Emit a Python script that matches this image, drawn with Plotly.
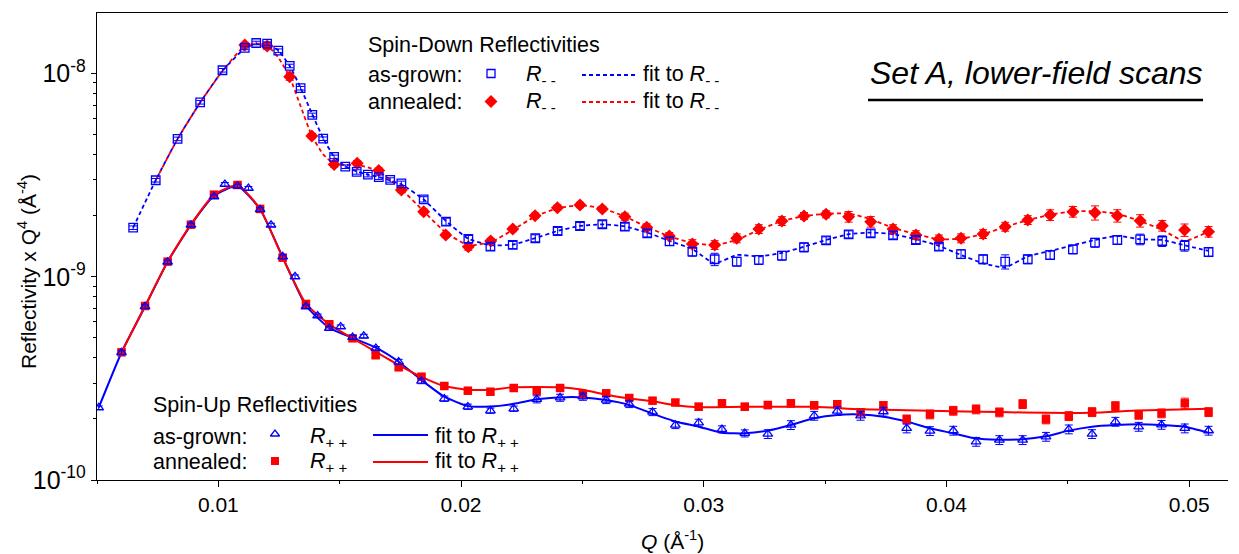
import plotly.graph_objects as go

# ---------------- data ----------------
# Spin-down, as-grown (open blue squares)
BS_Q = [0.00649, 0.00742, 0.00832, 0.00925, 0.01017, 0.01109, 0.01156, 0.01201, 0.01247, 0.01294,
        0.01339, 0.01387, 0.01432, 0.01477, 0.01523, 0.01570, 0.01616, 0.01661, 0.01708, 0.01754,
        0.01846, 0.01938, 0.02030, 0.02121, 0.02213, 0.02306, 0.02398, 0.02490, 0.02582, 0.02675,
        0.02767, 0.02859, 0.02953, 0.03045, 0.03136, 0.03227, 0.03322, 0.03413, 0.03504, 0.03597,
        0.03688, 0.03780, 0.03874, 0.03969, 0.04060, 0.04151, 0.04242, 0.04335, 0.04427, 0.04521,
        0.04612, 0.04704, 0.04798, 0.04889, 0.04981, 0.05080]
BS_R = [1.744e-9, 2.985e-9, 4.77e-9, 7.22e-9, 1.038e-8, 1.337e-8, 1.414e-8, 1.403e-8, 1.296e-8, 1.090e-8,
        8.47e-9, 6.26e-9, 4.78e-9, 3.89e-9, 3.48e-9, 3.28e-9, 3.18e-9, 3.09e-9, 2.995e-9, 2.884e-9,
        2.406e-9, 1.867e-9, 1.535e-9, 1.406e-9, 1.434e-9, 1.547e-9, 1.680e-9, 1.778e-9, 1.813e-9, 1.764e-9,
        1.637e-9, 1.495e-9, 1.329e-9, 1.220e-9, 1.187e-9, 1.210e-9, 1.270e-9, 1.397e-9, 1.512e-9, 1.618e-9,
        1.637e-9, 1.600e-9, 1.517e-9, 1.406e-9, 1.294e-9, 1.220e-9, 1.187e-9, 1.220e-9, 1.280e-9, 1.365e-9,
        1.471e-9, 1.517e-9, 1.529e-9, 1.500e-9, 1.422e-9, 1.324e-9]
BS_ERR = [0.02, 0.02, 0.02, 0.02, 0.02, 0.02, 0.02, 0.02, 0.02, 0.02,
          0.02, 0.02, 0.02, 0.02, 0.02, 0.025, 0.025, 0.025, 0.025, 0.025,
          0.03, 0.04, 0.04, 0.04, 0.04, 0.04, 0.04, 0.04, 0.04, 0.04,
          0.04, 0.045, 0.05, 0.07, 0.05, 0.05, 0.05, 0.05, 0.04, 0.04,
          0.04, 0.04, 0.04, 0.04, 0.05, 0.05, 0.08, 0.05, 0.05, 0.05,
          0.05, 0.05, 0.06, 0.06, 0.06, 0.05]

# Spin-down, annealed (red diamonds)
RD_Q = [0.01109, 0.01201, 0.01294, 0.01385, 0.01477, 0.01572, 0.01661, 0.01754, 0.01846, 0.01937,
        0.02030, 0.02122, 0.02213, 0.02305, 0.02397, 0.02490, 0.02582, 0.02675, 0.02765, 0.02858,
        0.02953, 0.03045, 0.03136, 0.03227, 0.03322, 0.03413, 0.03504, 0.03597, 0.03688, 0.03780,
        0.03874, 0.03969, 0.04060, 0.04151, 0.04242, 0.04335, 0.04427, 0.04521, 0.04612, 0.04704,
        0.04798, 0.04889, 0.04981, 0.05080]
RD_R = [1.382e-8, 1.367e-8, 9.65e-9, 4.93e-9, 3.57e-9, 3.62e-9, 3.33e-9, 2.675e-9, 2.091e-9, 1.605e-9,
        1.406e-9, 1.500e-9, 1.718e-9, 1.998e-9, 2.188e-9, 2.256e-9, 2.157e-9, 1.976e-9, 1.752e-9, 1.587e-9,
        1.450e-9, 1.434e-9, 1.547e-9, 1.718e-9, 1.882e-9, 1.991e-9, 2.030e-9, 1.976e-9, 1.867e-9, 1.718e-9,
        1.605e-9, 1.529e-9, 1.547e-9, 1.624e-9, 1.764e-9, 1.903e-9, 2.014e-9, 2.091e-9, 2.067e-9, 1.998e-9,
        1.888e-9, 1.784e-9, 1.699e-9, 1.667e-9]
RD_ERR = [0.03, 0.04, 0.04, 0.03, 0.03, 0.03, 0.03, 0.03, 0.03, 0.03,
          0.04, 0.03, 0.03, 0.03, 0.03, 0.03, 0.03, 0.04, 0.04, 0.04,
          0.05, 0.05, 0.05, 0.05, 0.05, 0.04, 0.04, 0.06, 0.06, 0.05,
          0.05, 0.05, 0.05, 0.05, 0.05, 0.05, 0.06, 0.06, 0.08, 0.07,
          0.07, 0.06, 0.07, 0.06]

# Spin-up, annealed (filled red squares)
RS_Q = [0.00601, 0.00698, 0.00791, 0.00887, 0.00982, 0.01079, 0.01172, 0.01265, 0.01361, 0.01457,
        0.01553, 0.01648, 0.01743, 0.01837, 0.01931, 0.02028, 0.02121, 0.02217, 0.02312, 0.02408,
        0.02502, 0.02598, 0.02693, 0.02789, 0.02883, 0.02979, 0.03075, 0.03169, 0.03264, 0.03359,
        0.03455, 0.03550, 0.03646, 0.03740, 0.03836, 0.03932, 0.04028, 0.04122, 0.04218, 0.04314,
        0.04410, 0.04504, 0.04600, 0.04696, 0.04792, 0.04886, 0.04982, 0.05080]
RS_R = [4.25e-10, 7.18e-10, 1.187e-9, 1.805e-9, 2.535e-9, 2.830e-9, 2.157e-9, 1.242e-9, 7.35e-10, 5.84e-10,
        4.98e-10, 4.11e-10, 3.585e-10, 3.224e-10, 2.901e-10, 2.750e-10, 2.719e-10, 2.836e-10, 2.742e-10, 2.836e-10,
        2.640e-10, 2.671e-10, 2.532e-10, 2.456e-10, 2.406e-10, 2.294e-10, 2.384e-10, 2.294e-10, 2.339e-10, 2.384e-10,
        2.330e-10, 2.360e-10, 2.154e-10, 2.330e-10, 1.989e-10, 2.105e-10, 2.193e-10, 2.228e-10, 2.154e-10, 2.366e-10,
        1.989e-10, 2.065e-10, 2.160e-10, 2.312e-10, 2.095e-10, 2.130e-10, 2.384e-10, 2.160e-10]
RS_ERR = [0.02, 0.02, 0.02, 0.02, 0.02, 0.02, 0.02, 0.02, 0.02, 0.02,
          0.025, 0.025, 0.025, 0.025, 0.025, 0.025, 0.025, 0.025, 0.025, 0.025,
          0.03, 0.03, 0.03, 0.03, 0.03, 0.04, 0.04, 0.04, 0.04, 0.04,
          0.04, 0.04, 0.04, 0.04, 0.05, 0.05, 0.05, 0.05, 0.05, 0.05,
          0.05, 0.05, 0.05, 0.05, 0.05, 0.05, 0.06, 0.05]

# Spin-up, as-grown (open blue triangles)
BT_Q = [0.00507, 0.00601, 0.00698, 0.00791, 0.00887, 0.00982, 0.01027, 0.01079, 0.01124, 0.01172,
        0.01217, 0.01265, 0.01316, 0.01361, 0.01409, 0.01457, 0.01504, 0.01553, 0.01599, 0.01649,
        0.01743, 0.01837, 0.01931, 0.02028, 0.02121, 0.02217, 0.02312, 0.02408, 0.02502, 0.02598,
        0.02693, 0.02789, 0.02883, 0.02979, 0.03075, 0.03169, 0.03264, 0.03359, 0.03455, 0.03550,
        0.03646, 0.03740, 0.03836, 0.03932, 0.04028, 0.04122, 0.04218, 0.04314, 0.04410, 0.04504,
        0.04600, 0.04696, 0.04792, 0.04886, 0.04982, 0.05080]
BT_R = [2.269e-10, 4.24e-10, 7.14e-10, 1.183e-9, 1.798e-9, 2.478e-9, 2.852e-9, 2.798e-9, 2.725e-9, 2.144e-9,
        1.798e-9, 1.256e-9, 1.001e-9, 7.13e-10, 6.43e-10, 5.58e-10, 5.68e-10, 5.04e-10, 5.11e-10, 4.45e-10,
        3.81e-10, 3.07e-10, 2.512e-10, 2.294e-10, 2.193e-10, 2.243e-10, 2.495e-10, 2.541e-10, 2.570e-10, 2.475e-10,
        2.366e-10, 2.160e-10, 1.865e-10, 1.914e-10, 1.776e-10, 1.697e-10, 1.684e-10, 1.865e-10, 2.072e-10, 2.186e-10,
        2.072e-10, 2.170e-10, 1.796e-10, 1.742e-10, 1.750e-10, 1.543e-10, 1.573e-10, 1.573e-10, 1.633e-10, 1.776e-10,
        1.684e-10, 1.936e-10, 1.829e-10, 1.870e-10, 1.796e-10, 1.750e-10]
BT_ERR = [0.02, 0.02, 0.02, 0.02, 0.02, 0.02, 0.02, 0.02, 0.02, 0.02,
          0.02, 0.02, 0.02, 0.02, 0.02, 0.02, 0.02, 0.02, 0.02, 0.02,
          0.03, 0.03, 0.03, 0.03, 0.03, 0.03, 0.04, 0.04, 0.04, 0.04,
          0.04, 0.04, 0.04, 0.04, 0.04, 0.04, 0.05, 0.05, 0.05, 0.05,
          0.05, 0.05, 0.05, 0.05, 0.05, 0.05, 0.05, 0.05, 0.05, 0.05,
          0.05, 0.05, 0.05, 0.05, 0.05, 0.05]

# Fits
FIT_BD_Q = BS_Q
FIT_BD_R = [1.744e-9, 2.985e-9, 4.77e-9, 7.2e-9, 1.03e-8, 1.33e-8, 1.40e-8, 1.40e-8, 1.30e-8, 1.09e-8,
            8.5e-9, 6.3e-9, 4.8e-9, 3.9e-9, 3.5e-9, 3.3e-9, 3.18e-9, 3.1e-9, 2.98e-9, 2.85e-9,
            2.4e-9, 1.88e-9, 1.54e-9, 1.43e-9, 1.44e-9, 1.55e-9, 1.68e-9, 1.78e-9, 1.81e-9, 1.77e-9,
            1.65e-9, 1.50e-9, 1.368e-9, 1.165e-9, 1.28e-9, 1.26e-9, 1.31e-9, 1.406e-9, 1.517e-9, 1.62e-9,
            1.65e-9, 1.62e-9, 1.53e-9, 1.42e-9, 1.28e-9, 1.165e-9, 1.114e-9, 1.26e-9, 1.34e-9, 1.43e-9,
            1.517e-9, 1.59e-9, 1.53e-9, 1.517e-9, 1.43e-9, 1.34e-9]

FIT_RD_Q = [0.00742, 0.00832, 0.00925, 0.01017, 0.01109, 0.01156, 0.01201, 0.01247, 0.01294, 0.01339,
            0.01385, 0.01432, 0.01477, 0.01525, 0.01572, 0.01616, 0.01661, 0.01754, 0.01846, 0.01937,
            0.02030, 0.02122, 0.02213, 0.02305, 0.02397, 0.02490, 0.02582, 0.02675, 0.02765, 0.02858,
            0.02953, 0.03045, 0.03136, 0.03227, 0.03322, 0.03413, 0.03504, 0.03597, 0.03688, 0.03780,
            0.03874, 0.03969, 0.04060, 0.04151, 0.04242, 0.04335, 0.04427, 0.04521, 0.04612, 0.04704,
            0.04798, 0.04889, 0.04981, 0.05080]
FIT_RD_R = [2.985e-9, 4.77e-9, 7.2e-9, 1.03e-8, 1.37e-8, 1.40e-8, 1.38e-8, 1.20e-8, 9.6e-9, 6.9e-9,
            4.95e-9, 4.0e-9, 3.6e-9, 3.55e-9, 3.55e-9, 3.45e-9, 3.3e-9, 2.7e-9, 2.1e-9, 1.65e-9,
            1.43e-9, 1.48e-9, 1.70e-9, 1.98e-9, 2.17e-9, 2.25e-9, 2.17e-9, 1.98e-9, 1.76e-9, 1.58e-9,
            1.47e-9, 1.43e-9, 1.52e-9, 1.70e-9, 1.88e-9, 1.99e-9, 2.04e-9, 2.05e-9, 1.92e-9, 1.74e-9,
            1.62e-9, 1.53e-9, 1.54e-9, 1.62e-9, 1.76e-9, 1.90e-9, 2.02e-9, 2.10e-9, 2.10e-9, 2.04e-9,
            1.88e-9, 1.70e-9, 1.50e-9, 1.67e-9]

FIT_BU_Q = [0.00507, 0.00601, 0.00698, 0.00791, 0.00887, 0.00982, 0.01079, 0.01172, 0.01265, 0.01361,
            0.01457, 0.01553, 0.01649, 0.01743, 0.01837, 0.01931, 0.02028, 0.02121, 0.02217, 0.02312,
            0.02408, 0.02502, 0.02598, 0.02693, 0.02789, 0.02883, 0.02979, 0.03075, 0.03169, 0.03264,
            0.03359, 0.03455, 0.03550, 0.03646, 0.03740, 0.03836, 0.03932, 0.04028, 0.04122, 0.04218,
            0.04314, 0.04410, 0.04504, 0.04600, 0.04696, 0.04792, 0.04886, 0.04982, 0.05080]
FIT_BU_R = [2.27e-10, 4.24e-10, 7.14e-10, 1.185e-9, 1.80e-9, 2.50e-9, 2.80e-9, 2.15e-9, 1.25e-9, 7.2e-10,
            5.6e-10, 5.0e-10, 4.48e-10, 3.82e-10, 3.10e-10, 2.57e-10, 2.31e-10, 2.30e-10, 2.37e-10, 2.495e-10,
            2.55e-10, 2.55e-10, 2.475e-10, 2.34e-10, 2.12e-10, 1.94e-10, 1.83e-10, 1.71e-10, 1.697e-10, 1.75e-10,
            1.865e-10, 2.012e-10, 2.089e-10, 2.10e-10, 2.05e-10, 1.94e-10, 1.796e-10, 1.697e-10, 1.60e-10, 1.58e-10,
            1.585e-10, 1.64e-10, 1.75e-10, 1.83e-10, 1.865e-10, 1.88e-10, 1.865e-10, 1.83e-10, 1.71e-10]

FIT_RU_Q = [0.00601, 0.00698, 0.00791, 0.00887, 0.00982, 0.01079, 0.01172, 0.01265, 0.01361, 0.01457,
            0.01553, 0.01648, 0.01743, 0.01837, 0.01931, 0.02028, 0.02121, 0.02217, 0.02312, 0.02408,
            0.02502, 0.02598, 0.02693, 0.02789, 0.02883, 0.02979, 0.03169, 0.03455, 0.03646, 0.03932,
            0.04218, 0.04410, 0.04600, 0.04792, 0.05080]
FIT_RU_R = [4.25e-10, 7.18e-10, 1.19e-9, 1.81e-9, 2.53e-9, 2.83e-9, 2.16e-9, 1.24e-9, 7.35e-10, 5.84e-10,
            4.98e-10, 4.28e-10, 3.68e-10, 3.22e-10, 2.90e-10, 2.78e-10, 2.78e-10, 2.86e-10, 2.87e-10, 2.86e-10,
            2.78e-10, 2.63e-10, 2.52e-10, 2.44e-10, 2.33e-10, 2.28e-10, 2.29e-10, 2.29e-10, 2.23e-10, 2.19e-10,
            2.16e-10, 2.14e-10, 2.14e-10, 2.195e-10, 2.24e-10]

X_TICKS = [0.01, 0.02, 0.03, 0.04, 0.05]
X_TICK_TEXT = ["0.01", "0.02", "0.03", "0.04", "0.05"]
Y_TICKS = [1e-10, 1e-9, 1e-8]
Y_TICK_TEXT = ["10<sup>-10</sup>", "10<sup>-9</sup>", "10<sup>-8</sup>"]

# ---------------- styling / layout ----------------
BLUE = "#0000FF"
RED = "#FF0000"
FONT = "Liberation Sans, Arial, sans-serif"

W, H = 1239, 554
L, R, T, B = 97, 11, 13, 74
PW, PH = W - L - R, H - T - B


def px(x):
    return (x - L) / PW


def py(y):
    return 1 - (y - T) / PH


def abs_err(vals, rel):
    return [v * r for v, r in zip(vals, rel)]


fig = go.Figure()

# fit curves
fig.add_trace(go.Scatter(x=FIT_BD_Q, y=FIT_BD_R, mode="lines",
                         line=dict(color=BLUE, width=1.8, dash="4px,3px", shape="spline", smoothing=0.5)))
fig.add_trace(go.Scatter(x=FIT_RD_Q, y=FIT_RD_R, mode="lines",
                         line=dict(color=RED, width=1.8, dash="4px,3px", shape="spline", smoothing=0.5)))
fig.add_trace(go.Scatter(x=FIT_BU_Q, y=FIT_BU_R, mode="lines",
                         line=dict(color=BLUE, width=2, shape="spline", smoothing=0.5)))
fig.add_trace(go.Scatter(x=FIT_RU_Q, y=FIT_RU_R, mode="lines",
                         line=dict(color=RED, width=2, shape="spline", smoothing=0.5)))

# data points
fig.add_trace(go.Scatter(x=RD_Q, y=RD_R, mode="markers",
                         marker=dict(symbol="diamond", size=10, color=RED, line=dict(width=0)),
                         error_y=dict(type="data", array=abs_err(RD_R, RD_ERR), color=RED, thickness=1, width=4)))
fig.add_trace(go.Scatter(x=BS_Q, y=BS_R, mode="markers",
                         marker=dict(symbol="square-open", size=8.5, color=BLUE, line=dict(width=1.3)),
                         error_y=dict(type="data", array=abs_err(BS_R, BS_ERR), color=BLUE, thickness=1, width=4)))
fig.add_trace(go.Scatter(x=RS_Q, y=RS_R, mode="markers",
                         marker=dict(symbol="square", size=8.5, color=RED, line=dict(width=0)),
                         error_y=dict(type="data", array=abs_err(RS_R, RS_ERR), color=RED, thickness=1, width=4)))
fig.add_trace(go.Scatter(x=BT_Q, y=BT_R, mode="markers",
                         marker=dict(symbol="triangle-up-open", size=8.5, color=BLUE, line=dict(width=1.3)),
                         error_y=dict(type="data", array=abs_err(BT_R, BT_ERR), color=BLUE, thickness=1, width=4)))

# legend sample markers (overlay axis in plot-fraction units)
LEG_MARKERS = [
    (px(491), py(73.5), "square-open", BLUE, 8),
    (px(491), py(101.5), "diamond", RED, 10),
    (px(275), py(434), "triangle-up-open", BLUE, 8),
    (px(275), py(461), "square", RED, 8),
]
for lx, ly, sym, col, sz in LEG_MARKERS:
    fig.add_trace(go.Scatter(x=[lx], y=[ly], xaxis="x2", yaxis="y2", mode="markers",
                             marker=dict(symbol=sym, size=sz, color=col, line=dict(width=1.3 if "open" in sym else 0))))

shapes = [
    dict(type="line", xref="paper", yref="paper", x0=px(582), x1=px(638), y0=py(75), y1=py(75),
         line=dict(color=BLUE, width=1.8, dash="4px,3px")),
    dict(type="line", xref="paper", yref="paper", x0=px(582), x1=px(638), y0=py(102), y1=py(102),
         line=dict(color=RED, width=1.8, dash="4px,3px")),
    dict(type="line", xref="paper", yref="paper", x0=px(373), x1=px(428), y0=py(435), y1=py(435),
         line=dict(color=BLUE, width=2)),
    dict(type="line", xref="paper", yref="paper", x0=px(373), x1=px(428), y0=py(462), y1=py(462),
         line=dict(color=RED, width=2)),
    # underline of the title
    dict(type="line", xref="paper", yref="paper", x0=px(868), x1=px(1203), y0=py(100), y1=py(100),
         line=dict(color="black", width=2.5)),
]

TXT = dict(family=FONT, size=21, color="black")


def ann(x, y, text, size=21.5, xanchor="left", **kw):
    d = dict(xref="paper", yref="paper", x=px(x), y=py(y), text=text, showarrow=False,
             xanchor=xanchor, yanchor="middle", font=dict(family=FONT, size=size, color="black"))
    d.update(kw)
    return d


annotations = [
    ann(366, 45, "Spin-Down Reflectivities"),
    ann(366, 75, "as-grown:"),
    ann(366, 102, "annealed:"),
    ann(524, 75, "<i>R</i><sub>- -</sub>"),
    ann(524, 102, "<i>R</i><sub>- -</sub>"),
    ann(641, 75, "fit to <i>R</i><sub>- -</sub>"),
    ann(641, 102, "fit to <i>R</i><sub>- -</sub>"),
    ann(151, 405, "Spin-Up Reflectivities"),
    ann(151, 437, "as-grown:"),
    ann(151, 462, "annealed:"),
    ann(308, 437, "<i>R</i><sub>+ +</sub>"),
    ann(308, 462, "<i>R</i><sub>+ +</sub>"),
    ann(433, 437, "fit to <i>R</i><sub>+ +</sub>"),
    ann(433, 462, "fit to <i>R</i><sub>+ +</sub>"),
    ann(1036, 73, "<i>Set A, lower-field scans</i>", size=32, xanchor="center"),
    # axis titles
    ann(27, 272, "Reflectivity x Q<sup>4</sup> (Å<sup>-4</sup>)", size=21, xanchor="center", textangle=-90),
    ann(672, 540, "<i>Q</i> (Å<sup>-1</sup>)", size=21, xanchor="center"),
]

fig.update_layout(
    width=W, height=H,
    margin=dict(l=L, r=R, t=T, b=B, pad=0),
    paper_bgcolor="white", plot_bgcolor="white",
    showlegend=False,
    font=TXT,
    shapes=shapes,
    annotations=annotations,
    xaxis=dict(range=[0.005, 0.0516], showgrid=False, zeroline=False,
               showline=True, linecolor="black", linewidth=1.3, mirror=True,
               ticks="outside", ticklen=6, tickwidth=1.2, tickcolor="black",
               tickvals=X_TICKS, ticktext=X_TICK_TEXT,
               tickfont=dict(family=FONT, size=21, color="black"),
               minor=dict(ticks="outside", ticklen=3, tickwidth=1.2, tickcolor="black",
                          tickvals=[0.005, 0.015, 0.025, 0.035, 0.045])),
    yaxis=dict(type="log", range=[-10, -7.702], showgrid=False, zeroline=False,
               showline=True, linecolor="black", linewidth=1.3,
               ticks="outside", ticklen=5, tickwidth=1.2, tickcolor="black",
               tickvals=Y_TICKS, ticktext=Y_TICK_TEXT,
               tickfont=dict(family=FONT, size=25, color="black"),
               minor=dict(ticks="outside", ticklen=3, tickwidth=1.2, tickcolor="black",
                          tickvals=[m * 10.0 ** e for e in (-10, -9) for m in range(2, 10)])),
    xaxis2=dict(overlaying="x", range=[0, 1], visible=False, anchor="y2"),
    yaxis2=dict(overlaying="y", range=[0, 1], visible=False, anchor="x2"),
)

fig.write_html("out.html")
